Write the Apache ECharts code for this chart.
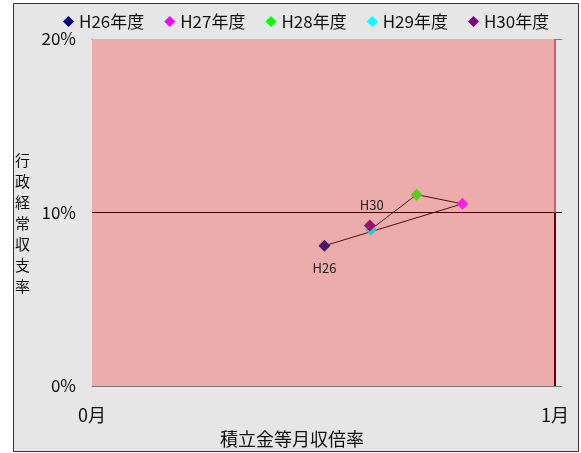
<!DOCTYPE html>
<html><head><meta charset="utf-8">
<script src="https://cdn.jsdelivr.net/npm/echarts@6/dist/echarts.min.js"></script>
<style>html,body{margin:0;padding:0;background:#fff}#c{width:581px;height:453px}</style>
</head><body><div id="c"></div>
<script>
var years = ['H26年度','H27年度','H28年度','H29年度','H30年度'];
var shortNames = ['H26','H27','H28','H29','H30'];
var monthsRatio = [0.502, 0.800, 0.701, 0.602, 0.600];
var balanceRate = [8.08, 10.5, 11.03, 9.02, 9.25];
var legendColors = ['#000080','#ff00ff','#00ff00','#00ffff','#800080'];
var markerColors = ['#4a1a6a','#ff22dd','#5ccc1a','#33c8c8','#a0106a'];
var labelShown = [true,false,false,false,true];
var labelPos = ['bottom','top','top','top','top'];
var yTicks = [0,10,20];
var xTicks = [0,1];

var FONT = '"Noto Sans CJK JP", sans-serif';
var chart = echarts.init(document.getElementById('c'));

var series = years.map(function(n,i){
  return {
    name: n, type: 'scatter', symbol: 'diamond', symbolSize: 12, z: 5,
    data: [[monthsRatio[i], balanceRate[i]]],
    itemStyle: {color: markerColors[i], opacity: 1},
    label: {show: labelShown[i], formatter: shortNames[i], position: labelPos[i], distance: i===4?8:10,
            offset: i===4?[2,0]:[0,0],
            color: '#222', fontSize: 13, fontFamily: FONT}
  };
});
series.unshift({
  name: 'path', type: 'line', symbol: 'none', z: 3,
  data: monthsRatio.map(function(v,i){return [v, balanceRate[i]];}),
  lineStyle: {color: '#4a1010', width: 1},
  markArea: {silent: true, itemStyle: {color: '#ecacac'}, data: [[{coord:[0,0]},{coord:[1,20]}]]},
  markLine: {silent: true, symbol: 'none', label: {show:false},
    data: [
      [{coord:[0,10], lineStyle:{color:'#4d0000', width:1, type:'solid'}}, {coord:[1.0151,10]}],
      [{coord:[1,0], lineStyle:{color:'#660014', width:2, type:'solid'}}, {coord:[1,10]}],
      [{coord:[1,10], lineStyle:{color:'#cc6070', width:2, type:'solid'}}, {coord:[1,20]}]
    ]}
});

chart.setOption({
  backgroundColor: '#ffffff',
  animation: false,
  graphic: [{type:'rect', z:-10, shape:{x:13.5,y:3.5,width:565,height:448}, style:{fill:'#e6e6e6', stroke:'#333', lineWidth:1}}],
  legend: {
    data: years.map(function(n,i){return {name:n, itemStyle:{color: legendColors[i], opacity: 1}};}),
    left: 58, top: 8, itemGap: 20, itemWidth: 11, itemHeight: 11, icon: 'diamond',
    textStyle: {fontSize: 17, color: '#111', fontFamily: FONT}
  },
  grid: {left: 92, right: 19, top: 39, bottom: 61, containLabel: false},
  xAxis: [{
    type: 'value', min: 0, max: 1.0151,
    axisLine: {show: true, lineStyle: {color: '#7a7a7a', width: 1}},
    axisTick: {show: false},
    splitLine: {show: false},
    axisLabel: {customValues: xTicks, formatter: function(v){return Math.round(v)+'月';}, fontSize: 18, color: '#111', margin: 20, fontFamily: FONT},
    name: '積立金等月収倍率', nameLocation: 'middle', nameGap: 44,
    nameTextStyle: {fontSize: 18, color: '#111', fontFamily: FONT, padding: [0, 70, 0, 0]}
  },{
    type: 'value', position: 'top', min: 0, max: 1.0151,
    axisLine: {show: true, onZero: false, lineStyle: {color: '#7a7a7a', width: 1}},
    axisTick: {show:false}, axisLabel: {show:false}, splitLine: {show:false}
  }],
  yAxis: {
    type: 'value', min: 0, max: 20, interval: 10,
    axisLine: {show: true, lineStyle: {color: '#6a6a6a', width: 1}},
    axisTick: {show: false},
    splitLine: {show: false},
    axisLabel: {customValues: yTicks, formatter: '{value}%', fontSize: 17, color: '#111', margin: 16, fontFamily: FONT},
    name: '\n行\n政\n経\n常\n収\n支\n率', nameLocation: 'middle', nameRotate: 0, nameGap: 62,
    nameTextStyle: {fontSize: 15, lineHeight: 21, color: '#111', fontFamily: FONT}
  },
  series: series
});
</script></body></html>
